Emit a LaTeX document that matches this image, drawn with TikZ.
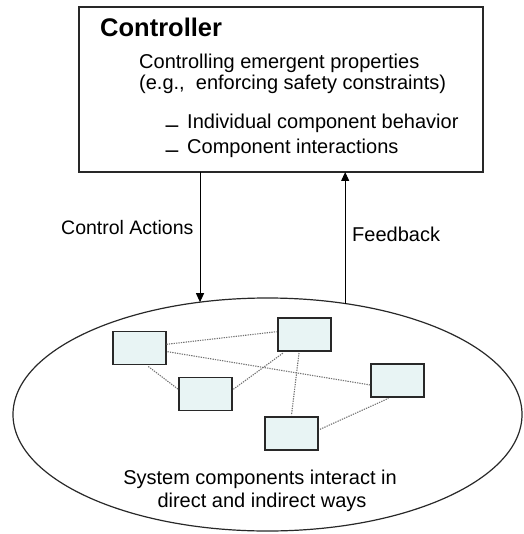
\documentclass[tikz,border=0pt]{standalone}
\usepackage{fontspec}
\setmainfont{Liberation Sans}
\usetikzlibrary{shapes.geometric,arrows.meta}
\definecolor{compfill}{RGB}{232,244,244}
\definecolor{inkline}{RGB}{40,40,40}
\begin{document}
\begin{tikzpicture}[x=1pt,y=-1pt,
  comp/.style={draw=inkline,line width=1.3pt,fill=compfill,minimum width=53pt,minimum height=33pt,inner sep=0pt,outer sep=0pt},
  link/.style={draw=black!55,line width=1.1pt,dash pattern=on 1.3pt off 1.1pt},
  txt/.style={inner sep=0pt,anchor=base west,font=\fontsize{20}{24}\selectfont},
  ctxt/.style={inner sep=0pt,anchor=base,font=\fontsize{20}{24}\selectfont},
  bullet/.style={inner sep=0pt,anchor=base west,font=\fontsize{23}{24}\selectfont},
  flow/.style={draw=black,line width=1pt,-{Triangle[length=9pt,width=8pt]}}]
\useasboundingbox (0,0) rectangle (523,534);
% controller
\node[draw=inkline,line width=1.5pt,minimum width=404pt,minimum height=165pt,inner sep=0pt,outer sep=0pt] (ctrl) at (281,89.5) {};
\node[txt,font=\fontsize{25.5}{30}\selectfont\bfseries] (title) at (100,37) {Controller};
\node[txt] (l1) at (139,68.3) {Controlling emergent properties};
\node[txt] (l2) at (139,90) {(e.g.,\ \ enforcing safety constraints)};
\node[bullet] (d1) at (165.5,128.3) {\raisebox{-4.5pt}{–}};
\node[txt] (b1) at (187,128.3) {Individual component behavior};
\node[bullet] (d2) at (165.5,153.3) {\raisebox{-4.5pt}{–}};
\node[txt] (b2) at (187,153.3) {Component interactions};
% system
\node[ellipse,draw=inkline,line width=1.2pt,minimum width=509pt,minimum height=233pt,inner sep=0pt,outer sep=0pt] (sys) at (267.5,414.5) {};
\node[ctxt] (s1) at (260,484) {System components interact in};
\node[ctxt] (s2) at (262,507) {direct and indirect ways};
% arrows
\draw[flow] (ctrl.south -| sys.121.4) -- (sys.121.4);
\draw[flow] (sys.55.45) -- (ctrl.south -| sys.55.45);
\node[txt,font=\fontsize{19.5}{24}\selectfont] (ca) at (61,234) {Control Actions};
\node[txt] (fb) at (352,241) {Feedback};
% components
\node[comp] (A) at (139.5,348) {};
\node[comp] (B) at (304.5,334.5) {};
\node[comp] (C) at (205.5,394) {};
\node[comp] (D) at (397.5,380.5) {};
\node[comp] (E) at (291.5,433.5) {};
\draw[link] ([xshift=0.5pt,yshift=3.7pt]A.east) -- ([xshift=-1.5pt,yshift=2.8pt]B.west);
\draw[link] ([xshift=1.5pt,yshift=-3.7pt]A.east) -- ([xshift=-0.5pt,yshift=-4.5pt]D.west);
\draw[link] ([xshift=8.8pt,yshift=-2pt]A.south) -- ([xshift=-0.7pt,yshift=4.7pt]C.west);
\draw[link] ([xshift=1.3pt,yshift=4.7pt]C.east) -- ([xshift=-21pt,yshift=-1.7pt]B.south);
\draw[link] ([xshift=-5.5pt,yshift=-2pt]B.south) -- ([yshift=2pt]E.north);
\draw[link] ([xshift=2pt,yshift=4.2pt]E.east) -- ([xshift=-9pt,yshift=-1.3pt]D.south);
\end{tikzpicture}
\end{document}
